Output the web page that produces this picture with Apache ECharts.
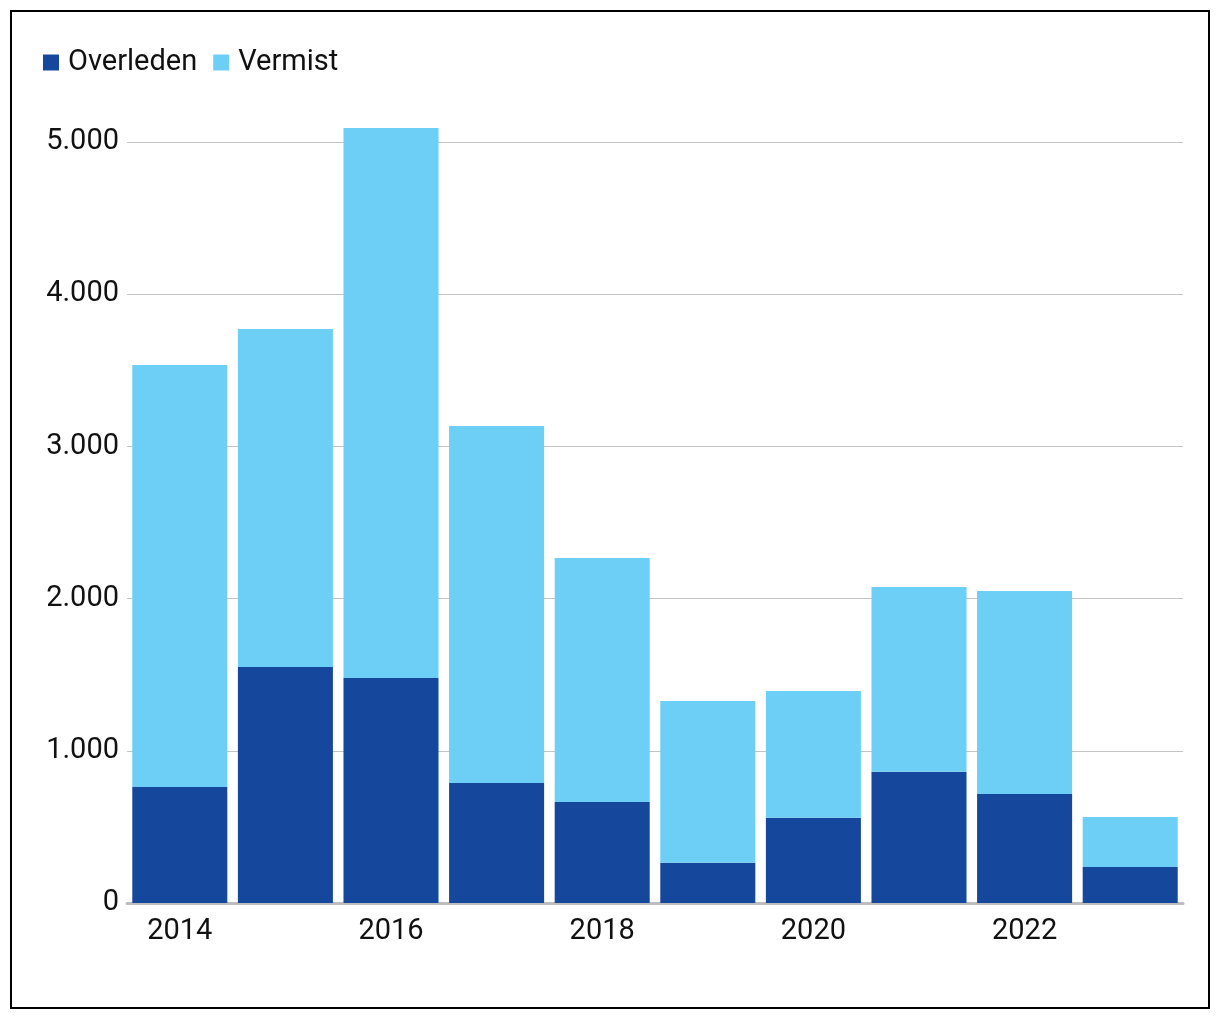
<!DOCTYPE html>
<html><head><meta charset="utf-8">
<script src="https://cdn.jsdelivr.net/npm/echarts@6/dist/echarts.min.js"></script>
<style>html,body{margin:0;padding:0;background:#fff}#c{width:1220px;height:1020px}</style>
</head><body><div id="c"></div>
<script>
const years = ['2014','2015','2016','2017','2018','2019','2020','2021','2022','2023'];
const overleden = [762, 1551, 1478, 788, 664, 265, 560, 863, 716, 237];
const vermist = [2773, 2220, 3614, 2346, 1603, 1062, 833, 1213, 1334, 328];
const seriesNames = ['Overleden', 'Vermist'];
const colors = ['#15489d', '#6dcff5'];

const chart = echarts.init(document.getElementById('c'));
const font = 'Roboto, "Noto Sans", sans-serif';
chart.setOption({
  animation: false,
  graphic: [{type:'rect', shape:{x:11,y:11,width:1198,height:997}, style:{fill:'none', stroke:'#000', lineWidth:2}, silent:true}],
  legend: {
    left: 38, top: 43, itemWidth: 16, itemHeight: 16, itemGap: 16,
    icon: 'rect',
    textStyle: {fontFamily: font, fontSize: 29, color: '#111', padding:[0,0,0,4]},
    data: seriesNames
  },
  grid: {left: 127, right: 37, top: 142, bottom: 117},
  xAxis: {
    type: 'category', data: years,
    axisLine: {lineStyle: {color: '#bdbdbd', width: 3}},
    axisTick: {show: false},
    axisLabel: {interval: 1, fontFamily: font, fontSize: 29, color: '#111', margin: 14}
  },
  yAxis: {
    type: 'value', min: 0, max: 5000, interval: 1000,
    axisLine: {show: false}, axisTick: {show: false},
    splitLine: {lineStyle: {color: '#c4c4c4', width: 1}},
    axisLabel: {fontFamily: font, fontSize: 29, color: '#111', margin: 8,
      formatter: v => v.toLocaleString('de-DE')}
  },
  series: [
    {name: seriesNames[0], type: 'bar', stack: 't', data: overleden, barCategoryGap: '10%', itemStyle: {color: colors[0]}, clip: false},
    {name: seriesNames[1], type: 'bar', stack: 't', data: vermist, barCategoryGap: '10%', itemStyle: {color: colors[1]}, clip: false}
  ]
});
</script></body></html>
